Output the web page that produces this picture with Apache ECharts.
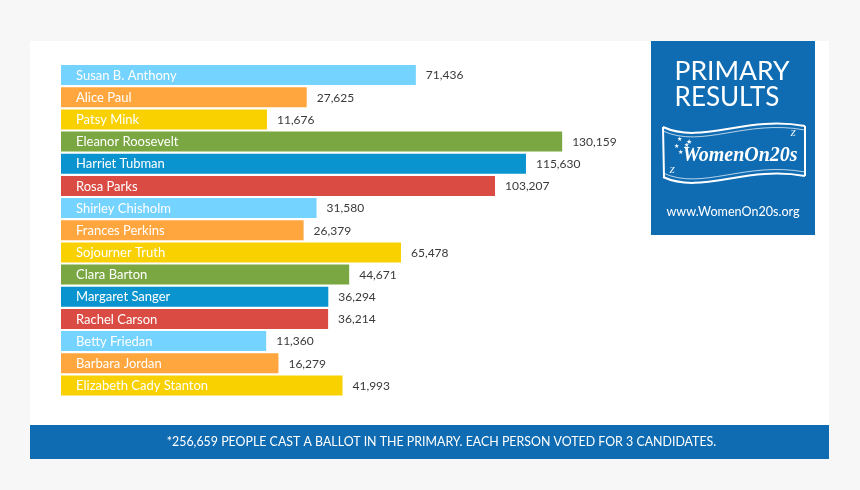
<!DOCTYPE html>
<html>
<head>
<meta charset="utf-8">
<title>Primary Results</title>
<script src="https://cdn.jsdelivr.net/npm/echarts@6/dist/echarts.min.js"></script>
<style>
html,body{margin:0;padding:0;background:#f7f7f7;}
#chart{width:860px;height:490px;}
</style>
</head>
<body>
<div id="chart"></div>
<script>
var names = ['Susan B. Anthony','Alice Paul','Patsy Mink','Eleanor Roosevelt','Harriet Tubman','Rosa Parks','Shirley Chisholm','Frances Perkins','Sojourner Truth','Clara Barton','Margaret Sanger','Rachel Carson','Betty Friedan','Barbara Jordan','Elizabeth Cady Stanton'];
var votes = [71436,27625,11676,130159,115630,103207,31580,26379,65478,44671,36294,36214,11360,16279,41993];
var colors = ['#75d3ff','#ffa63f','#f9d100','#7ba743','#0a94cf','#d94b43'];
var footnote = '*256,659 PEOPLE CAST A BALLOT IN THE PRIMARY. EACH PERSON VOTED FOR 3 CANDIDATES.';

// the bars in the original don't start at zero, the name sits in the extra length
var axisMin = -71000;
var axisMax = 161000;
var font = 'Lato';

function renderBar(params, api){
	var i = api.value(1);
	var start = api.coord([axisMin, i]);
	var end = api.coord([api.value(0), i]);
	var h = 20;
	return {
		type: 'group',
		children: [{
			type: 'rect',
			shape: {x: start[0], y: start[1] - h / 2, width: end[0] - start[0], height: h},
			style: {fill: colors[i % colors.length]}
		},{
			type: 'text',
			style: {x: start[0] + 15, y: start[1] + 0.5, text: names[i], fill: '#fff', font: '13px ' + font, textVerticalAlign: 'middle'}
		},{
			type: 'text',
			style: {x: end[0] + 10, y: start[1] + 0.5, text: votes[i].toLocaleString('en-US'), fill: '#3a3a3a', font: '12px ' + font, textVerticalAlign: 'middle'}
		}]
	};
}

var white = {stroke: '#fff', fill: 'none', lineWidth: 2};
var thin = {stroke: '#fff', fill: 'none', lineWidth: 0.7};

function wave(y, style){
	return {type: 'bezierCurve', shape: {x1: 663, y1: y, cpx1: 702, cpy1: y + 18, cpx2: 745, cpy2: y - 12, x2: 805, y2: y - 1}, style: style};
}
function label(x, y, text, size, extra){
	var s = {x: x, y: y, text: text, fill: '#fff', font: size + 'px ' + font, textAlign: 'center', textVerticalAlign: 'middle'};
	for (var k in extra) s[k] = extra[k];
	return {type: 'text', style: s};
}

var myChart = echarts.init(document.getElementById('chart'));
myChart.setOption({
	animation: false,
	backgroundColor: '#f7f7f7',
	grid: {left: 61, top: 64, width: 578, height: 332.5},
	xAxis: {type: 'value', min: axisMin, max: axisMax, show: false},
	yAxis: {type: 'category', data: names, inverse: true, show: false},
	graphic: {elements: [
		{type: 'rect', z: -10, shape: {x: 30, y: 41, width: 799, height: 384}, style: {fill: '#fff'}},
		{type: 'rect', z: -9, shape: {x: 30, y: 425, width: 799, height: 34}, style: {fill: '#0f6cb3'}},
		{type: 'rect', z: -9, shape: {x: 651, y: 41, width: 164, height: 194}, style: {fill: '#0f6cb3'}},
		label(441.5, 442, footnote, 12.4),
		label(732, 71, 'PRIMARY', 26.5),
		label(727, 98, 'RESULTS', 26),
		wave(127, white),
		wave(131, thin),
		wave(173, thin),
		wave(177, white),
		{type: 'line', shape: {x1: 663, y1: 127, x2: 664, y2: 177}, style: white},
		{type: 'line', shape: {x1: 805, y1: 126, x2: 805, y2: 176}, style: white},
		label(740, 156, 'WomenOn20s', 20, {font: 'italic bold 20px "Liberation Serif"'}),
		label(679, 139, '★', 6), label(686, 145, '★', 6), label(676, 146, '★', 6), label(689, 142, '★', 7), label(680, 152, '★', 6),
		label(793, 134, 'Z', 9, {font: 'italic 9px "Liberation Serif"'}),
		label(672, 171, 'Z', 9, {font: 'italic 9px "Liberation Serif"'}),
		label(733, 212, 'www.WomenOn20s.org', 12.6)
	]},
	series: [{
		type: 'custom',
		renderItem: renderBar,
		encode: {x: 0, y: 1},
		data: votes.map(function(v, i){ return [v, i]; })
	}]
});
</script>
</body>
</html>
